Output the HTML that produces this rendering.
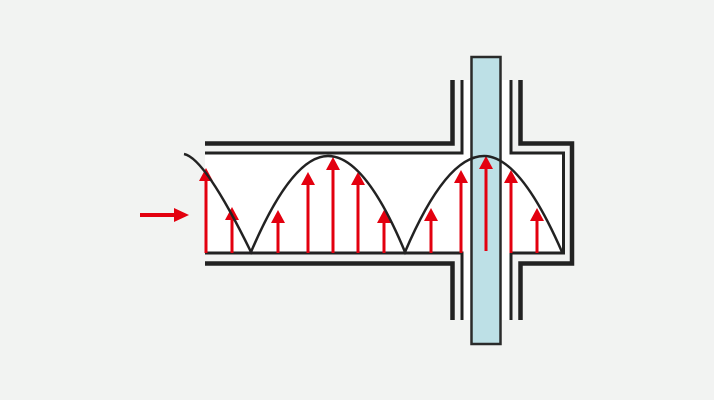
<!DOCTYPE html>
<html><head><meta charset="utf-8"><style>
html,body{margin:0;padding:0;background:#f2f3f2;}
svg{display:block;}
</style></head><body>
<svg width="714" height="400" viewBox="0 0 714 400" xmlns="http://www.w3.org/2000/svg">
<rect width="714" height="400" fill="#f2f3f2"/>
<!-- white interior -->
<path d="M205 153 H462 V80 H511 V153 H563 V253 H511 V320 H462 V253 H205 Z" fill="#fff"/>
<g fill="none" stroke="#222" stroke-linecap="butt">
  <!-- outer thick walls -->
  <path d="M205 143.5 H452.5 V80" stroke-width="4.5"/>
  <path d="M205 263.5 H452.5 V320" stroke-width="4.5"/>
  <path d="M520.5 80 V143.5 H572 V263.5 H520.5 V320" stroke-width="4.5"/>
  <!-- inner thin walls -->
  <path d="M205 153 H462 V80" stroke-width="3"/>
  <path d="M205 253 H462 V320" stroke-width="3"/>
  <path d="M511 80 V153 H563.5 V253 H511 V320" stroke-width="3"/>
</g>
<!-- tube -->
<rect x="471.5" y="57" width="29" height="287" fill="#bde0e6" stroke="#2a2a2a" stroke-width="2.5"/>
<!-- arrows -->
<g stroke="#e3000f" stroke-width="3" fill="#e3000f">
  <line x1="206" y1="253" x2="206" y2="178"/><polygon points="199,181 213,181 206,168" stroke="none"/>
  <line x1="232" y1="253" x2="232" y2="215"/><polygon points="225,220 239,220 232,207" stroke="none"/>
  <line x1="278" y1="253" x2="278" y2="218"/><polygon points="271,223 285,223 278,210" stroke="none"/>
  <line x1="308" y1="253" x2="308" y2="180"/><polygon points="301,185 315,185 308,172" stroke="none"/>
  <line x1="333" y1="253" x2="333" y2="165"/><polygon points="326,170 340,170 333,157" stroke="none"/>
  <line x1="358" y1="253" x2="358" y2="180"/><polygon points="351,185 365,185 358,172" stroke="none"/>
  <line x1="384" y1="253" x2="384" y2="218"/><polygon points="377,223 391,223 384,210" stroke="none"/>
  <line x1="431" y1="253" x2="431" y2="216"/><polygon points="424,221 438,221 431,208" stroke="none"/>
  <line x1="461" y1="253" x2="461" y2="178"/><polygon points="454,183 468,183 461,170" stroke="none"/>
  <line x1="486" y1="251" x2="486" y2="164"/><polygon points="479,169 493,169 486,156" stroke="none"/>
  <line x1="511" y1="253" x2="511" y2="178"/><polygon points="504,183 518,183 511,170" stroke="none"/>
  <line x1="537" y1="253" x2="537" y2="216"/><polygon points="530,221 544,221 537,208" stroke="none"/>
  <line x1="140" y1="215" x2="176" y2="215" stroke-width="4"/><polygon points="174,208 174,222 189,215" stroke="none"/>
</g>
<!-- velocity profile curve -->
<path d="M184 154 Q205 158 251 252 Q292 156 328 156 Q365 156 405 252 Q446 156 484 156 Q520 156 562 252" fill="none" stroke="#222" stroke-width="2.5" stroke-linejoin="miter"/>
</svg>
</body></html>
